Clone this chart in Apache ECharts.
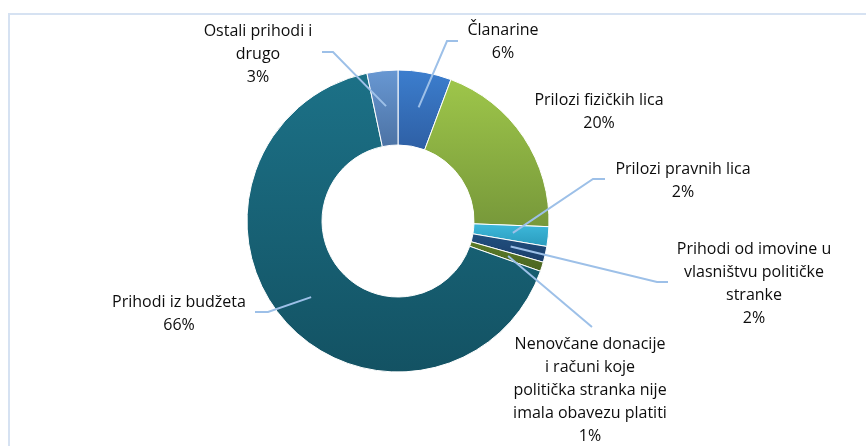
<!DOCTYPE html>
<html>
<head>
<meta charset="utf-8">
<script src="https://cdn.jsdelivr.net/npm/echarts@6/dist/echarts.min.js"></script>
<style>
  html, body { margin: 0; padding: 0; background: #fff; }
  #main { width: 866px; height: 446px; }
</style>
</head>
<body>
<div id="main"></div>
<script>
const categories = [
  'Članarine',
  'Prilozi fizičkih lica',
  'Prilozi pravnih lica',
  'Prihodi od imovine u\nvlasništvu političke\nstranke',
  'Nenovčane donacije\ni računi koje\npolitička stranka nije\nimala obavezu platiti',
  'Prihodi iz budžeta',
  'Ostali prihodi i\ndrugo'
];
const shares = [5.7, 19.9, 2.1, 1.7, 1.0, 66.3, 3.3];

// slice gradients (top -> bottom)
const colorsTop = ['#3C7ECE', '#9EC64A', '#3EB9DB', '#21507F', '#5C7C28', '#1C7187', '#6898D3'];
const colorsBottom = ['#2E5FA4', '#77983A', '#2A9BBD', '#1B3E6B', '#4A6420', '#135263', '#4C72A4'];

// label placement (text centre) and leader elbows
const labelSpots = [[503, 42], [599, 112], [683, 181], [754, 284], [590, 390], [179, 314], [258, 54]];
const elbows = [
  [[447, 41], [458, 41]],
  null,
  [[593, 179], [605, 179]],
  [[657, 282], [668, 282]],
  [[592, 327]],
  [[268, 312], [255, 312]],
  [[333, 52], [322, 52]]
];

const cx = 398, cy = 221, rIn = 76, rOut = 151;
const total = shares.reduce((a, b) => a + b, 0);

// start of each leader line: middle of the ring at the slice mid angle
function leaderStart(idx) {
  let before = 0;
  for (let i = 0; i < idx; i++) before += shares[i];
  const ang = (before + shares[idx] / 2) / total * Math.PI * 2;
  const r = (rIn + rOut) / 2 + 2;
  return [cx + r * Math.sin(ang), cy - r * Math.cos(ang)];
}

const data = categories.map((name, i) => ({
  name: name,
  value: shares[i],
  itemStyle: {
    color: new echarts.graphic.LinearGradient(0, 0, 0, 1, [
      { offset: 0, color: colorsTop[i] },
      { offset: 1, color: colorsBottom[i] }
    ])
  }
}));

let leaders = [];
elbows.forEach((pts, i) => {
  if (!pts) return;
  leaders.push({
    type: 'polyline',
    z: 100,
    shape: { points: [leaderStart(i)].concat(pts) },
    style: { stroke: '#9DC0E8', lineWidth: 2, fill: null }
  });
});

var myChart = echarts.init(document.getElementById('main'));
let option = {
  animation: false,
  graphic: [
    {
      type: 'polyline',
      shape: { points: [[9, 446], [9, 14], [866, 14]] },
      style: { stroke: '#D6E2F2', lineWidth: 2, fill: null }
    }
  ].concat(leaders),
  series: [
    {
      type: 'pie',
      center: [cx, cy],
      radius: [rIn, rOut],
      startAngle: 90,
      clockwise: true,
      percentPrecision: 0,
      avoidLabelOverlap: false,
      itemStyle: { borderColor: '#ffffff', borderWidth: 1 },
      label: {
        show: true,
        position: 'outside',
        formatter: '{b}\n{d}%',
        color: '#0d0d0d',
        fontFamily: 'Open Sans',
        fontSize: 16,
        lineHeight: 23,
        align: 'center'
      },
      labelLine: { show: false },
      labelLayout: function (params) {
        const spot = labelSpots[params.dataIndex];
        return {
          x: spot[0],
          y: spot[1],
          align: 'center',
          verticalAlign: 'middle'
        };
      },
      data: data
    }
  ]
};
myChart.setOption(option);
</script>
</body>
</html>
